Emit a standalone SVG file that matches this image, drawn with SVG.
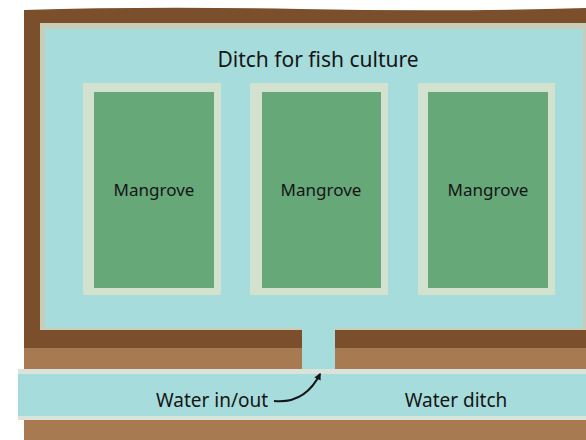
<svg xmlns="http://www.w3.org/2000/svg" width="586" height="440" viewBox="0 0 586 440">
<style>
.lbl{font-family:"Noto Sans","DejaVu Sans",sans-serif;fill:#151515;}
.rim{fill:#d2e2cf;}
.grn{fill:#66a878;}
.water{fill:#a7dcdc;}
.dark{fill:#7b4f2b;}
.light{fill:#a87a51;}
.edge{fill:#d9e3dc;}
</style>
<defs>
<marker id="ah" viewBox="0 0 10 10" refX="8" refY="5" markerWidth="7" markerHeight="7" orient="auto-start-reverse" markerUnits="userSpaceOnUse">
<path d="M0,0 L10,5 L0,10 Z" fill="#151515"/>
</marker>
</defs>
<rect width="586" height="440" fill="#ffffff"/>
<g id="land">
<path class="dark" d="M24,10 Q150,6 300,9 T586,8 L586,350 L24,350 Z"/>
<rect class="light" x="24" y="348" width="562" height="22"/>
<rect class="light" x="24" y="420" width="562" height="20"/>
</g>
<g id="pond">
<rect x="40" y="23" width="546" height="307" fill="#c9ccb8"/>
<rect class="water" x="45" y="29" width="538" height="299"/>
<text class="lbl" x="318" y="67" font-size="21" text-anchor="middle">Ditch for fish culture</text>
</g>
<g id="channel">
<rect class="water" x="302" y="326" width="33" height="50"/>
</g>
<g id="ditch">
<rect class="edge" x="18" y="369" width="568" height="51"/>
<rect class="water" x="18" y="374" width="568" height="42"/>
<text class="lbl" x="212" y="407" font-size="19" text-anchor="middle">Water in/out</text>
<text class="lbl" x="456" y="407" font-size="19" text-anchor="middle">Water ditch</text>
</g>
<g id="mangrove1">
<rect class="rim" x="83" y="83" width="138" height="212"/>
<rect class="grn" x="94" y="92" width="120" height="196"/>
<text class="lbl" x="154" y="196" font-size="17" text-anchor="middle">Mangrove</text>
</g>
<g id="mangrove2">
<rect class="rim" x="250" y="83" width="138" height="212"/>
<rect class="grn" x="262" y="92" width="119" height="196"/>
<text class="lbl" x="321" y="196" font-size="17" text-anchor="middle">Mangrove</text>
</g>
<g id="mangrove3">
<rect class="rim" x="418" y="83" width="137" height="212"/>
<rect class="grn" x="428" y="92" width="120" height="196"/>
<text class="lbl" x="488" y="196" font-size="17" text-anchor="middle">Mangrove</text>
</g>
<g id="connectors">
<path d="M274,401 Q305,404 320,374" fill="none" stroke="#151515" stroke-width="2" marker-end="url(#ah)"/>
</g>
</svg>
